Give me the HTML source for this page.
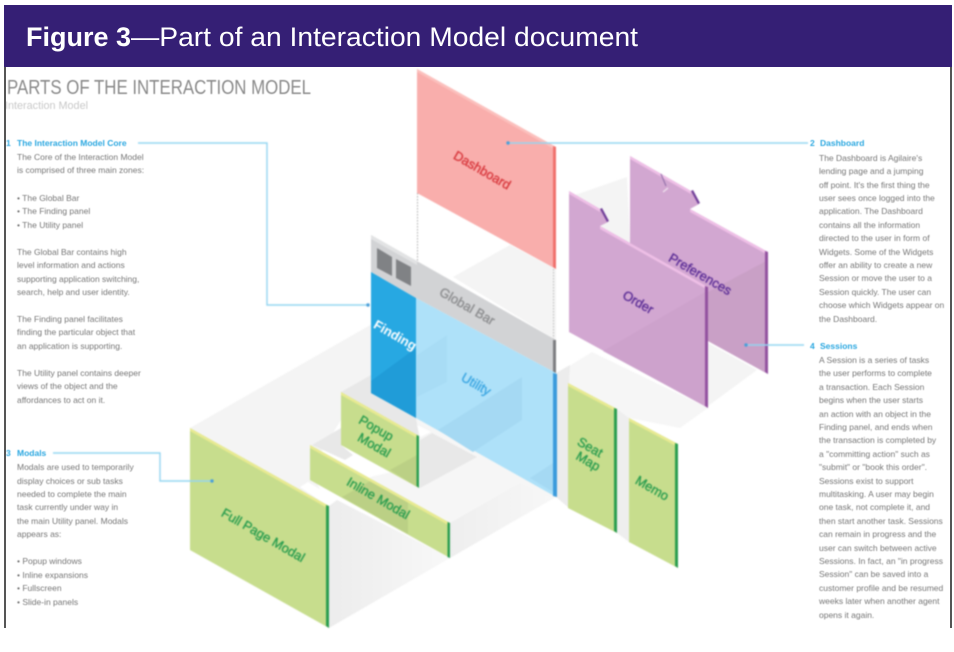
<!DOCTYPE html>
<html><head><meta charset="utf-8"><style>
html,body{margin:0;padding:0;background:#fff;width:954px;height:652px;overflow:hidden}
svg{position:absolute;left:0;top:0}
#art{filter:blur(.7px)}
#txt{filter:blur(.65px)}
#txt text{font-family:"Liberation Sans",sans-serif;font-size:8.5px;fill:#777}
#txt .h{fill:#2aa7e0;font-weight:bold}
#art text{font-family:"Liberation Sans",sans-serif;font-size:13px;text-anchor:middle;stroke-width:.35px}
#head text{font-family:"Liberation Sans",sans-serif;fill:#fff;font-size:27px}
</style></head><body>
<svg id="art" width="954" height="652" viewBox="0 0 954 652">
<defs>
<linearGradient id="s1" x1="0" x2="1" y1="0" y2="0"><stop offset="0" stop-color="#ececec"/><stop offset="1" stop-color="#f8f8f8"/></linearGradient>
<linearGradient id="s2" x1="0" x2="1" y1="0" y2="0"><stop offset="0" stop-color="#eeeeee"/><stop offset="1" stop-color="#f7f7f7"/></linearGradient>
</defs>
<!-- floors -->
<polygon points="190,428 372,324 372,400 341,420 310,470 329,506" fill="#f4f4f4"/>
<polygon points="416,418 556,497 450,558 380,520 370,477 400,470" fill="#f6f6f6"/>
<polygon points="453,277 510,245 556,269 556,340" fill="#f4f4f4"/>
<polygon points="575,195 627,177 630,243 600,226" fill="#f4f4f4"/>
<polygon points="558,373 592,352 708,408 680,428 629,418 617,409 568,383" fill="#f6f6f6"/>
<polygon points="708,343 757,370 708,406" fill="#f4f4f4"/>
<!-- white strips -->
<polygon points="300,487 308,482 338,500 328,506" fill="#fff"/>
<polygon points="345,460 353,455 378,472 370,477" fill="#fff"/>
<polygon points="417,425 431,432 420,437" fill="#fff"/>
<!-- shadows -->
<polygon points="329,506 337,500 450,558 329,628" fill="url(#s1)"/>
<polygon points="450,523 520,483 553,498 450,558" fill="url(#s2)"/>
<polygon points="312,445 341,428 341,445 353,455 345,460" fill="#e8e8e8"/>
<polygon points="341,392 371,375 371,393 416,418 419,436" fill="#e8e8e8"/>
<polygon points="420,440 432,433 477,457 420,488" fill="#e8e8e8"/>
<polygon points="556,373 570,365 569,383 569,508 556,497" fill="#ececec"/>
<polygon points="617,409 629,418 629,542 617,533" fill="#eeeeee"/>
<!-- dotted guides -->
<line x1="417.500" y1="193" x2="417.500" y2="262" stroke="#aaa" stroke-width="1" stroke-dasharray="1.5 1.5"/>
<line x1="553.500" y1="269" x2="553.500" y2="340" stroke="#bbb" stroke-width="1" stroke-dasharray="1.5 1.5"/>
<!-- global bar -->
<polygon points="371,235 556,340 556,373 416,298 371,272" fill="#d2d3d5"/>
<polygon points="371,235 417,261 417,265 371,239" fill="#e2e3e4"/>
<polygon points="377,248 392,257 392,276 377,268" fill="#808285"/>
<polygon points="396,259 411,267 411,286 396,278" fill="#808285"/>
<polygon points="553,340 556,340 556,374 553,372" fill="#7c7d80"/>
<!-- finding -->
<polygon points="371,272 416,298 416,418 371,393" fill="#27a8e2"/>
<polygon points="371,381 416,348 416,418 371,393" fill="#209cd8"/>
<!-- utility -->
<polygon points="416,298 556,373 556,497 416,418" fill="#aee1f9"/>
<polygon points="417,355 447,335 447,382 417,397" fill="#a8dcf5"/>
<polygon points="438,430 522,377 522,420 473,452" fill="#a5d9f3"/>
<polygon points="530,478 553,463 553,492" fill="#a5d9f3"/>
<polygon points="553,373 557,374 557,497 553,496" fill="#3b9bdc"/>
<!-- dashboard -->
<polygon points="417,69 556,147 556,269 417,193" fill="#f9aeac"/>
<polygon points="417,69 556,147 556,150 417,72" fill="#fbc0bd"/>
<polygon points="553,146 556,147 556,269 553,267" fill="#f0716d"/>
<!-- preferences -->
<polygon points="630,156 691,191 699,204 690,209 768,252 768,374 630,298" fill="#d2a7d1"/>
<polygon points="708,292 768,260 768,374 708,341" fill="#c9a0c6"/>
<polygon points="630,156 691,191 691,194 630,159" fill="#eebfe6"/>
<polygon points="690,209 768,252 768,255 690,212" fill="#eebfe6"/>
<polygon points="691,191 693,190 700,203 698,204" fill="#6f3d97"/>
<line x1="661" y1="174" x2="666" y2="186" stroke="#8a6aa5" stroke-width="1"/>
<line x1="663" y1="192" x2="668" y2="188" stroke="#f0e5ef" stroke-width="1.2"/>
<polygon points="765,251 768,252 768,374 765,372" fill="#92519f"/>
<!-- order -->
<polygon points="569,191 600,209 608,222 600,226 708,287 708,408 569,332" fill="#d2a7d1"/>
<polygon points="603,351 705,292 705,406" fill="#cda2cc"/>
<polygon points="569,191 600,209 600,212 569,194" fill="#eebfe6"/>
<polygon points="600,226 708,287 708,290 600,229" fill="#eebfe6"/>
<polygon points="600,209 602,208 609,221 607,222" fill="#6f3d97"/>
<polygon points="705,286 708,287 708,408 705,406" fill="#92519f"/>
<!-- popup -->
<polygon points="341,392 419,436 419,488 341,445" fill="#c7dd8d"/>
<polygon points="390,470 417,455 417,487" fill="#bbd085"/>
<polygon points="341,392 419,436 419,439 341,395" fill="#e8ea92"/>
<polygon points="416.500,435 419,436 419,488 416.500,486" fill="#2a9d4f"/>
<!-- inline -->
<polygon points="310,445 450,523 450,558 310,480" fill="#c7dd8d"/>
<polygon points="342,497 372,480 408,500 408,534" fill="#bbd085"/>
<polygon points="310,445 450,523 450,526 310,448" fill="#e8ea92"/>
<polygon points="447.500,522 450,523 450,558 447.500,557" fill="#2a9d4f"/>
<!-- full page -->
<polygon points="190,428 329,506 329,628 190,550" fill="#c7dd8d"/>
<polygon points="190,428 329,506 329,509 190,431" fill="#e8ea92"/>
<polygon points="326,505 329,506 329,628 326,626" fill="#2a9d4f"/>
<!-- seat -->
<polygon points="568,383 617,409 617,533 568,508" fill="#c7dd8d"/>
<polygon points="568,383 617,409 617,412 568,386" fill="#e8ea92"/>
<polygon points="614,408 617,409 617,533 614,531" fill="#2a9d4f"/>
<!-- memo -->
<polygon points="629,418 678,444 678,568 629,542" fill="#c7dd8d"/>
<polygon points="629,418 678,444 678,447 629,421" fill="#e8ea92"/>
<polygon points="675,443 678,444 678,568 675,566" fill="#2a9d4f"/>
<!-- connectors -->
<g fill="none" stroke="#93d5f1" stroke-width="1.4">
<path d="M138,143H267V305H368"/>
<path d="M53,453H160V481H213"/>
<path d="M808,143H508"/>
<path d="M804,345H746"/>
</g>
<g fill="#4a9fd8"><circle cx="368" cy="305" r="1.7"/><circle cx="212" cy="481" r="1.7"/><circle cx="508" cy="143" r="1.7"/><circle cx="746" cy="345" r="1.7"/></g>
<!-- labels -->
<text transform="translate(480,174) rotate(30)" fill="#d8393e" stroke="#d8393e">Dashboard</text>
<text transform="translate(465,310) rotate(30)" fill="#8c8d8f" stroke="#8c8d8f">Global Bar</text>
<text transform="translate(393,339) rotate(30)" fill="#fff" font-weight="bold">Finding</text>
<text transform="translate(474,388) rotate(30)" fill="#3ba6e2" stroke="#3ba6e2">Utility</text>
<text transform="translate(636,306) rotate(30)" fill="#5b2d96" stroke="#5b2d96">Order</text>
<text transform="translate(698,278) rotate(30)" fill="#5b2d96" stroke="#5b2d96">Preferences</text>
<text transform="translate(374,432) rotate(30)" fill="#2a9d4f" stroke="#2a9d4f">Popup</text>
<text transform="translate(372,449) rotate(30)" fill="#2a9d4f" stroke="#2a9d4f">Modal</text>
<text transform="translate(376,502) rotate(30)" fill="#2a9d4f" stroke="#2a9d4f">Inline Modal</text>
<text transform="translate(261,539) rotate(30)" fill="#2a9d4f" stroke="#2a9d4f">Full Page Modal</text>
<text transform="translate(588,451) rotate(30)" fill="#2a9d4f" stroke="#2a9d4f">Seat</text>
<text transform="translate(586,465) rotate(30)" fill="#2a9d4f" stroke="#2a9d4f">Map</text>
<text transform="translate(650,492) rotate(30)" fill="#2a9d4f" stroke="#2a9d4f">Memo</text>
</svg>
<svg id="txt" width="954" height="652" viewBox="0 0 954 652">
<text x="7" y="94" style="font-size:20px;fill:#8a8a8a" textLength="304" lengthAdjust="spacingAndGlyphs">PARTS OF THE INTERACTION MODEL</text>
<text x="5" y="109" style="font-size:11px;fill:#c9c9c9" textLength="83" lengthAdjust="spacingAndGlyphs">Interaction Model</text>
<text x="6" y="146" class="h">1</text><text x="17" y="146" class="h">The Interaction Model Core</text>
<text x="17" y="160">The Core of the Interaction Model</text>
<text x="17" y="173">is comprised of three main zones:</text>
<text x="17" y="201">• The Global Bar</text>
<text x="17" y="214">• The Finding panel</text>
<text x="17" y="228">• The Utility panel</text>
<text x="17" y="255">The Global Bar contains high</text>
<text x="17" y="268">level information and actions</text>
<text x="17" y="282">supporting application switching,</text>
<text x="17" y="295">search, help and user identity.</text>
<text x="17" y="322">The Finding panel facilitates</text>
<text x="17" y="335">finding the particular object that</text>
<text x="17" y="349">an application is supporting.</text>
<text x="17" y="376">The Utility panel contains deeper</text>
<text x="17" y="389">views of the object and the</text>
<text x="17" y="403">affordances to act on it.</text>
<text x="6" y="456" class="h">3</text><text x="17" y="456" class="h">Modals</text>
<text x="17" y="470">Modals are used to temporarily</text>
<text x="17" y="484">display choices or sub tasks</text>
<text x="17" y="497">needed to complete the main</text>
<text x="17" y="510">task currently under way in</text>
<text x="17" y="524">the main Utility panel. Modals</text>
<text x="17" y="537">appears as:</text>
<text x="17" y="564">• Popup windows</text>
<text x="17" y="578">• Inline expansions</text>
<text x="17" y="591">• Fullscreen</text>
<text x="17" y="605">• Slide-in panels</text>
<text x="810" y="146" class="h">2</text><text x="820" y="146" class="h">Dashboard</text>
<text x="819" y="161">The Dashboard is Agilaire's</text>
<text x="819" y="174">lending page and a jumping</text>
<text x="819" y="188">off point. It's the first thing the</text>
<text x="819" y="201">user sees once logged into the</text>
<text x="819" y="214">application. The Dashboard</text>
<text x="819" y="228">contains all the information</text>
<text x="819" y="241">directed to the user in form of</text>
<text x="819" y="255">Widgets. Some of the Widgets</text>
<text x="819" y="268">offer an ability to create a new</text>
<text x="819" y="281">Session or move the user to a</text>
<text x="819" y="295">Session quickly. The user can</text>
<text x="819" y="308">choose which Widgets appear on</text>
<text x="819" y="322">the Dashboard.</text>
<text x="810" y="349" class="h">4</text><text x="820" y="349" class="h">Sessions</text>
<text x="819" y="363">A Session is a series of tasks</text>
<text x="819" y="376">the user performs to complete</text>
<text x="819" y="390">a transaction. Each Session</text>
<text x="819" y="403">begins when the user starts</text>
<text x="819" y="417">an action with an object in the</text>
<text x="819" y="430">Finding panel, and ends when</text>
<text x="819" y="443">the transaction is completed by</text>
<text x="819" y="457">a "committing action" such as</text>
<text x="819" y="470">"submit" or "book this order".</text>
<text x="819" y="484">Sessions exist to support</text>
<text x="819" y="497">multitasking. A user may begin</text>
<text x="819" y="510">one task, not complete it, and</text>
<text x="819" y="524">then start another task. Sessions</text>
<text x="819" y="537">can remain in progress and the</text>
<text x="819" y="551">user can switch between active</text>
<text x="819" y="564">Sessions. In fact, an "in progress</text>
<text x="819" y="577">Session" can be saved into a</text>
<text x="819" y="591">customer profile and be resumed</text>
<text x="819" y="604">weeks later when another agent</text>
<text x="819" y="618">opens it again.</text>
</svg>
<svg id="head" width="954" height="652" viewBox="0 0 954 652">
<rect x="4" y="5" width="948" height="62" fill="#351f75"/>
<rect x="4" y="67" width="2" height="561" fill="#555"/>
<rect x="950" y="67" width="2" height="561" fill="#555"/>
<text x="26" y="46" font-weight="bold" textLength="105" lengthAdjust="spacingAndGlyphs">Figure 3</text>
<text x="131" y="46" textLength="507" lengthAdjust="spacingAndGlyphs">—Part of an Interaction Model document</text>
</svg>
</body></html>
